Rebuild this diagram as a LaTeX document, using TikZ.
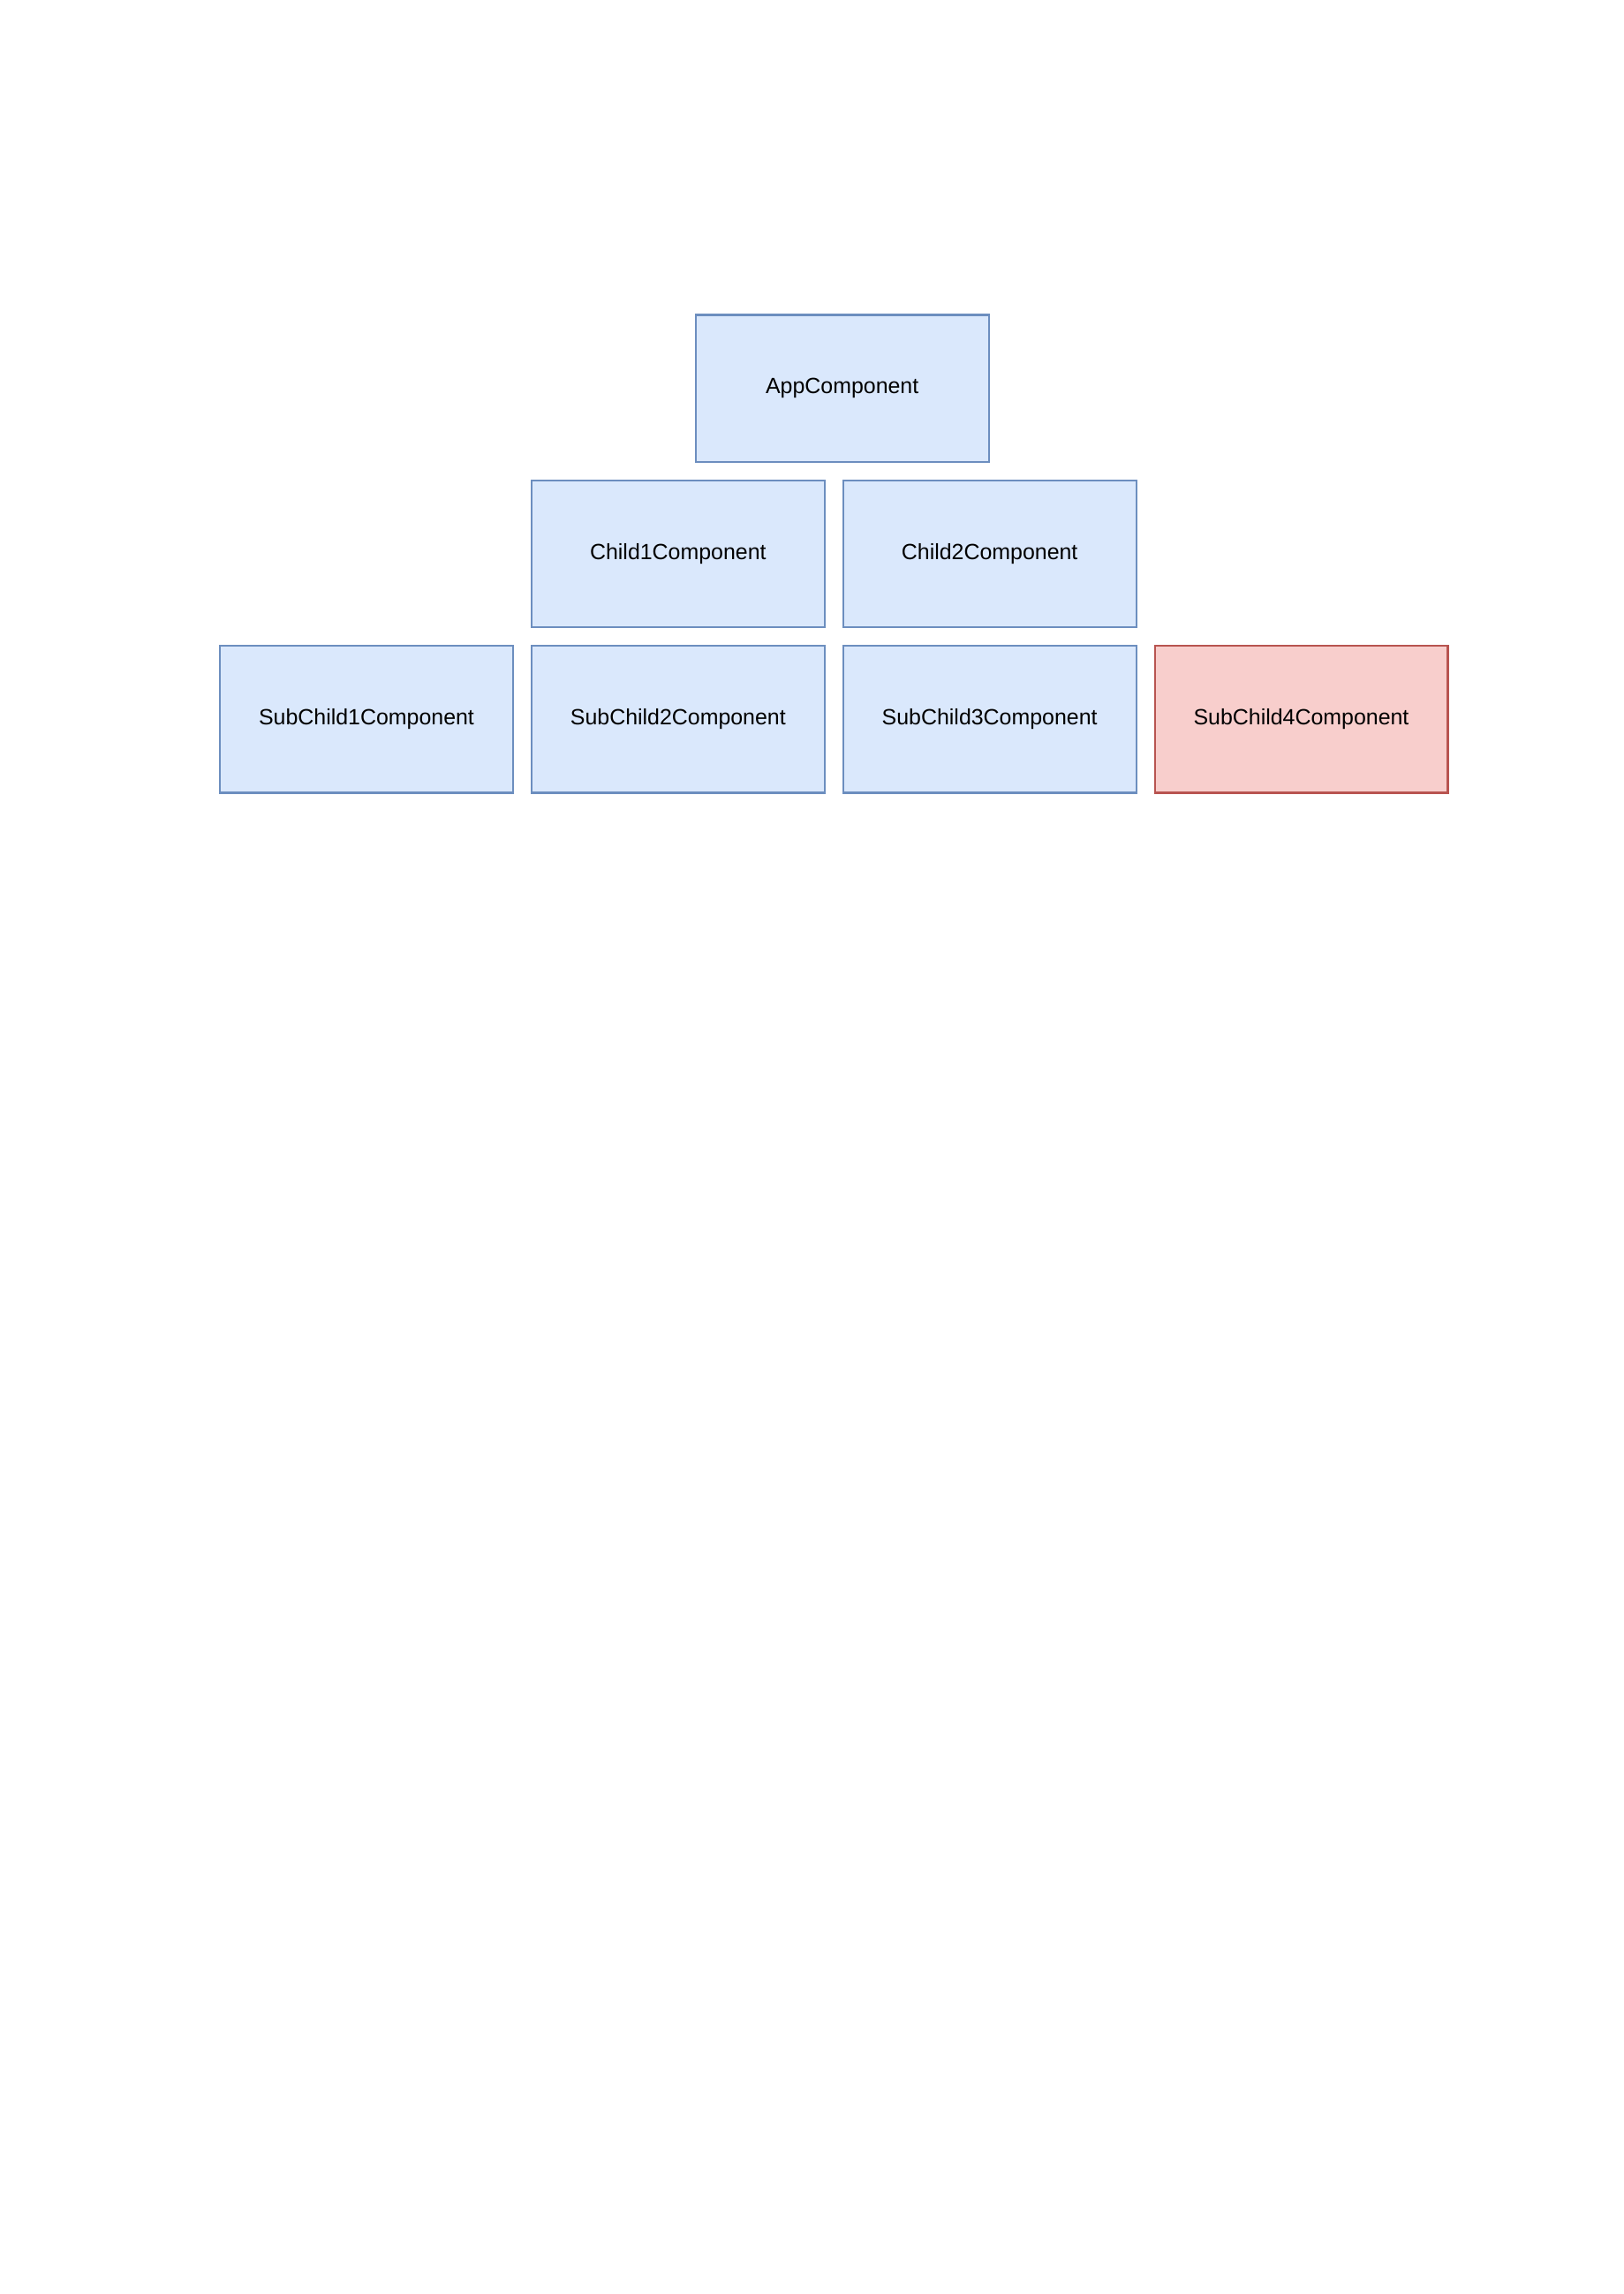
\documentclass[tikz,border=0pt]{standalone}
\usepackage{fontspec}
\setmainfont{Liberation Sans}
\usetikzlibrary{positioning}

\definecolor{compline}{HTML}{6C8EBF}
\definecolor{compfill}{HTML}{DAE8FC}
\definecolor{warnline}{HTML}{B85450}
\definecolor{warnfill}{HTML}{F8CECC}

\begin{document}
\begin{tikzpicture}[
       node distance=0.215cm,
       comp/.style={rectangle, draw=compline, fill=compfill, line width=0.7pt,
                    minimum width=3.79cm, minimum height=1.9cm, inner sep=0pt,
                    font=\fontsize{8.1}{10}\selectfont},
       warn/.style={comp, draw=warnline, fill=warnfill}
   ]

   \useasboundingbox[fill=white] (0,0) rectangle (21,-29.66);

   % bottom row
   \node[comp] (sub1) at (4.74,-9.30) {SubChild1Component};
   \node[comp, right=of sub1] (sub2) {SubChild2Component};
   \node[comp, right=of sub2] (sub3) {SubChild3Component};
   \node[warn, right=of sub3] (sub4) {SubChild4Component};

   % middle row
   \node[comp, above=of sub2] (child1) {Child1Component};
   \node[comp, above=of sub3] (child2) {Child2Component};

   % top
   \node[comp, above=of child2.north west] (app) {AppComponent};
   \end{tikzpicture}
\end{document}
